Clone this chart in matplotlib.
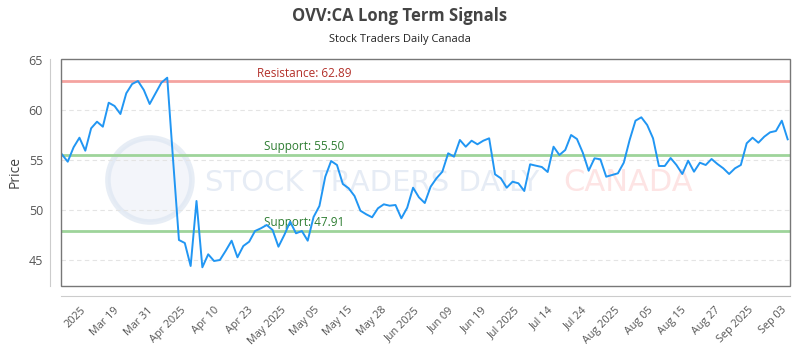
import matplotlib
matplotlib.use("Agg")
import matplotlib.pyplot as plt
from matplotlib.patches import Rectangle, Ellipse
import numpy as np

# daily closes (trading days, Mar -> Sep 2025)
prices = [
    55.57, 54.83, 56.27, 57.23, 55.93, 58.17, 58.83, 58.33, 60.73, 60.40,
    59.60, 61.67, 62.60, 62.90, 62.00, 60.60, 61.67, 62.73, 63.23, 55.00,
    47.00, 46.70, 44.40, 50.90, 44.27, 45.57, 44.90, 45.00, 45.93, 46.93,
    45.27, 46.40, 46.83, 47.90, 48.17, 48.50, 48.00, 46.33, 47.50, 48.83,
    47.67, 47.90, 46.93, 49.30, 50.40, 53.33, 54.90, 54.50, 52.60, 52.17,
    51.40, 49.93, 49.57, 49.27, 50.17, 50.57, 50.43, 50.50, 49.17, 50.23,
    52.23, 51.27, 50.70, 52.33, 53.17, 53.83, 55.67, 55.33, 57.00, 56.33,
    56.93, 56.57, 56.93, 57.17, 53.57, 53.17, 52.23, 52.83, 52.67, 51.90,
    54.57, 54.43, 54.30, 53.80, 56.33, 55.50, 56.00, 57.50, 57.10, 55.73,
    53.93, 55.17, 55.07, 53.33, 53.50, 53.67, 54.73, 57.00, 58.93, 59.27,
    58.50, 57.17, 54.40, 54.40, 55.20, 54.50, 53.60, 54.93, 53.83, 54.73,
    54.50, 55.10, 54.60, 54.17, 53.60, 54.17, 54.50, 56.67, 57.23, 56.73,
    57.33, 57.77, 57.90, 58.93, 57.07,
]
tick_labels = [
    "2025", "Mar 19", "Mar 31", "Apr 2025", "Apr 10", "Apr 23", "May 2025",
    "May 05", "May 15", "May 28", "Jun 2025", "Jun 09", "Jun 19", "Jul 2025",
    "Jul 14", "Jul 24", "Aug 2025", "Aug 05", "Aug 15", "Aug 27", "Sep 2025",
    "Sep 03",
]
resistance = [62.89]
supports = [55.50, 47.91]
y_ticks = [45, 50, 55, 60, 65]

plt.rcParams['font.family'] = ['Open Sans', 'DejaVu Sans']

fig = plt.figure(figsize=(8, 3.5), dpi=100)
ax = fig.add_axes([61 / 800, 64 / 350, 729 / 800, 227 / 350])

# offset axis lines first: set_position resets the tick styling
for side in ['top', 'right']:
    ax.spines[side].set_visible(False)
ax.spines['left'].set_position(('outward', 8))
ax.spines['bottom'].set_position(('outward', 7.5))
ax.spines['left'].set_color('#cccccc')
ax.spines['bottom'].set_color('#cccccc')

x = np.arange(len(prices))

# watermark
ax.add_patch(Ellipse((0.122, 0.467), 84 / 729, 84 / 227, transform=ax.transAxes,
                     facecolor='#eef2f9', edgecolor='#dde6f2', lw=4, alpha=0.7, zorder=0))
ax.text(0.1975, 0.455, "STOCK TRADERS DAILY", transform=ax.transAxes, fontsize=21,
        color='#e6ecf5', va='center', ha='left', family='DejaVu Sans', zorder=0)
ax.text(0.689, 0.455, "CANADA", transform=ax.transAxes, fontsize=22,
        color='#fde4e4', va='center', ha='left', family='DejaVu Sans', zorder=0)

for v in [45, 50, 55, 60]:
    ax.axhline(v, color='#e4e4e4', lw=0.8, ls=(0, (4, 3)), zorder=1)

ax.axhline(resistance[0], color='#f4a3a0', lw=2, zorder=2)
ax.text(33.3, resistance[0] + 0.15, f"Resistance: {resistance[0]:.2f}", color='#b3302a',
        fontsize=8.5, va='bottom', ha='left')
for s in supports:
    ax.axhline(s, color='#9ed49a', lw=2, zorder=2)
    ax.text(34.6, s + 0.15, f"Support: {s:.2f}", color='#2e7d32',
            fontsize=8.5, va='bottom', ha='left')

ax.plot(x, prices, color='#2196f3', lw=1.4, zorder=3)

ax.set_xlim(-0.15, len(prices) - 0.6)
ax.set_ylim(42.4, 65.1)
ax.set_yticks(y_ticks)

ax.set_xticks(np.linspace(3.2, 122.9, len(tick_labels)))
ax.set_xticklabels(tick_labels, rotation=45, ha='right', rotation_mode='anchor')

ax.add_patch(Rectangle((0, 0), 1, 1, transform=ax.transAxes, fill=False,
                       edgecolor='#777777', lw=1, zorder=4, clip_on=False))

ax.tick_params(axis='y', length=0, pad=5, labelsize=9, labelcolor='#555555')
ax.tick_params(axis='x', length=0, pad=6, labelsize=7.8, labelcolor='#555555')
ax.set_ylabel("Price", fontsize=10, color='#444444', labelpad=4)

fig.text(0.5, 0.955, "OVV:CA Long Term Signals", ha='center', va='center',
         fontsize=12, fontweight='bold', color='#444444')
fig.text(0.5, 0.888, "Stock Traders Daily Canada", ha='center', va='center',
         fontsize=8, color='#222222')

fig.savefig("out.png", dpi=100)
